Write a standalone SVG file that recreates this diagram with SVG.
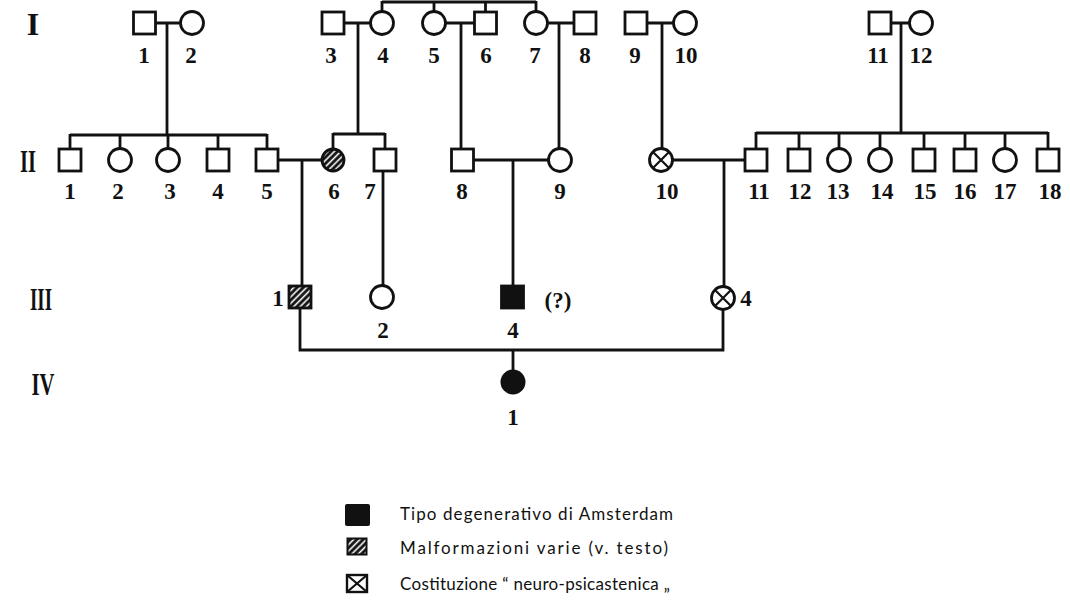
<svg xmlns="http://www.w3.org/2000/svg" width="1070" height="608" viewBox="0 0 1070 608">
<defs>
<pattern id="hatch" patternUnits="userSpaceOnUse" width="4.5" height="4.5" patternTransform="rotate(45)">
<rect width="4.5" height="4.5" fill="#111"/>
<line x1="1.5" y1="0" x2="1.5" y2="4.5" stroke="#fff" stroke-width="1.6"/>
</pattern>
<style>
.sq{fill:#fff;stroke:#111;stroke-width:2.8}
.ci{fill:#fff;stroke:#111;stroke-width:2.8}
.ln{stroke:#111;stroke-width:2.8;fill:none}
.x{stroke:#111;stroke-width:2.2}
.lbl{font-family:"Liberation Serif","DejaVu Serif",serif;font-size:23px;font-weight:bold;fill:#111;text-anchor:middle}
.gen{font-family:"Liberation Serif","DejaVu Serif",serif;font-weight:bold;font-size:32px;fill:#111;text-anchor:middle}
.leg{font-family:"Lato","Open Sans",sans-serif;font-size:17px;fill:#111}
</style>
</defs>
<rect width="1070" height="608" fill="#fff"/>

<g id="gen-labels">
<text class="gen" x="33" y="35">I</text>
<text class="gen" x="28" y="172" textLength="16" lengthAdjust="spacingAndGlyphs">II</text>
<text class="gen" x="41" y="310" textLength="22" lengthAdjust="spacingAndGlyphs">III</text>
<text class="gen" x="43" y="395" textLength="23" lengthAdjust="spacingAndGlyphs">IV</text>
</g>

<g id="connectors">
<path class="ln" d="M156 23H180M167 23V135"/>
<path class="ln" d="M344 23H370M358 23V134"/>
<path class="ln" d="M446 23H474M461 23V148"/>
<path class="ln" d="M548 23H574M559 23V148"/>
<path class="ln" d="M647 23H673M662 23V148"/>
<path class="ln" d="M891 23H909M901 23V133"/>
<path class="ln" d="M382 2H536M382 1V12M434 1V12M485.5 1V12M536 1V12"/>
<path class="ln" d="M70 135H267M70 134V148M120 134V148M168 134V148M218 134V148M267 134V148"/>
<path class="ln" d="M333 134H385M333 133V149M385 133V148"/>
<path class="ln" d="M756 133H1048M756 132V148M799 132V148M839 132V149M880 132V149M924 132V148M965 132V148M1005 132V149M1048 132V148"/>
<path class="ln" d="M278 160H322M302 160V285"/>
<path class="ln" d="M474 160H548M513 160V285"/>
<path class="ln" d="M673 160H745M724 160V286"/>
<path class="ln" d="M383 172V286"/>
<path class="ln" d="M300 309V350H723V310M513 350V370"/>
</g>

<g id="I-1"><rect class="sq" x="133.5" y="12" width="22" height="22"/><text class="lbl" x="144" y="63">1</text></g>
<g id="I-2"><circle class="ci" cx="192" cy="23" r="11.5"/><text class="lbl" x="191" y="63">2</text></g>
<g id="I-3"><rect class="sq" x="322" y="12" width="22" height="22"/><text class="lbl" x="331" y="63">3</text></g>
<g id="I-4"><circle class="ci" cx="382" cy="23" r="11.5"/><text class="lbl" x="383" y="63">4</text></g>
<g id="I-5"><circle class="ci" cx="434" cy="23" r="11.5"/><text class="lbl" x="434" y="63">5</text></g>
<g id="I-6"><rect class="sq" x="474.5" y="12" width="22" height="22"/><text class="lbl" x="486" y="63">6</text></g>
<g id="I-7"><circle class="ci" cx="536" cy="23" r="11.5"/><text class="lbl" x="535" y="63">7</text></g>
<g id="I-8"><rect class="sq" x="574" y="12" width="22" height="22"/><text class="lbl" x="585" y="63">8</text></g>
<g id="I-9"><rect class="sq" x="625" y="12" width="22" height="22"/><text class="lbl" x="635" y="63">9</text></g>
<g id="I-10"><circle class="ci" cx="685" cy="23" r="11.5"/><text class="lbl" x="686" y="63">10</text></g>
<g id="I-11"><rect class="sq" x="869" y="12" width="22" height="22"/><text class="lbl" x="878" y="63">11</text></g>
<g id="I-12"><circle class="ci" cx="921" cy="23" r="11.5"/><text class="lbl" x="921" y="63">12</text></g>

<g id="II-1"><rect class="sq" x="59" y="149" width="22" height="22"/><text class="lbl" x="70" y="199">1</text></g>
<g id="II-2"><circle class="ci" cx="120" cy="160" r="11.5"/><text class="lbl" x="118" y="199">2</text></g>
<g id="II-3"><circle class="ci" cx="168" cy="160" r="11.5"/><text class="lbl" x="170" y="199">3</text></g>
<g id="II-4"><rect class="sq" x="207" y="149" width="22" height="22"/><text class="lbl" x="218" y="199">4</text></g>
<g id="II-5"><rect class="sq" x="256" y="149" width="22" height="22"/><text class="lbl" x="267" y="199">5</text></g>
<g id="II-6"><circle cx="333" cy="160" r="11" fill="url(#hatch)" stroke="#111" stroke-width="2.8"/><text class="lbl" x="334" y="199">6</text></g>
<g id="II-7"><rect class="sq" x="374" y="149" width="22" height="22"/><text class="lbl" x="370" y="199">7</text></g>
<g id="II-8"><rect class="sq" x="451.5" y="149" width="22" height="22"/><text class="lbl" x="462" y="199">8</text></g>
<g id="II-9"><circle class="ci" cx="560" cy="160" r="11.5"/><text class="lbl" x="560" y="199">9</text></g>
<g id="II-10"><circle class="ci" cx="661" cy="160" r="11.5"/><path class="x" d="M653 152L669 168M669 152L653 168"/><text class="lbl" x="667" y="199">10</text></g>
<g id="II-11"><rect class="sq" x="745" y="149" width="22" height="22"/><text class="lbl" x="759" y="199">11</text></g>
<g id="II-12"><rect class="sq" x="788" y="149" width="22" height="22"/><text class="lbl" x="800" y="199">12</text></g>
<g id="II-13"><circle class="ci" cx="839" cy="160" r="11.5"/><text class="lbl" x="838" y="199">13</text></g>
<g id="II-14"><circle class="ci" cx="880" cy="160" r="11.5"/><text class="lbl" x="882" y="199">14</text></g>
<g id="II-15"><rect class="sq" x="913" y="149" width="22" height="22"/><text class="lbl" x="925" y="199">15</text></g>
<g id="II-16"><rect class="sq" x="954" y="149" width="22" height="22"/><text class="lbl" x="965" y="199">16</text></g>
<g id="II-17"><circle class="ci" cx="1005" cy="160" r="11.5"/><text class="lbl" x="1005" y="199">17</text></g>
<g id="II-18"><rect class="sq" x="1037" y="149" width="22" height="22"/><text class="lbl" x="1050" y="199">18</text></g>

<g id="III-1"><rect x="289" y="286" width="22" height="22" fill="url(#hatch)" stroke="#111" stroke-width="2.8"/><text class="lbl" x="278" y="306">1</text></g>
<g id="III-2"><circle class="ci" cx="382" cy="297" r="11.5"/><text class="lbl" x="383" y="338">2</text></g>
<g id="III-4a"><rect x="501.5" y="286" width="22" height="22" fill="#111" stroke="#111" stroke-width="2.8"/><text class="lbl" x="513" y="338">4</text><text class="lbl" x="558" y="308">(?)</text></g>
<g id="III-4b"><circle class="ci" cx="723" cy="298" r="11.5"/><path class="x" d="M715 290L731 306M731 290L715 306"/><text class="lbl" x="746" y="306">4</text></g>

<g id="IV-1"><circle cx="513" cy="382" r="12.5" fill="#111"/><text class="lbl" x="513" y="425">1</text></g>

<g id="legend">
<rect x="345" y="504" width="25" height="22" rx="2" fill="#111"/>
<text class="leg" x="400" y="520" textLength="273" lengthAdjust="spacing">Tipo degenerativo di Amsterdam</text>
<rect x="347.5" y="538.5" width="19" height="16" fill="url(#hatch)" stroke="#111" stroke-width="2"/>
<text class="leg" x="400" y="554" textLength="268" lengthAdjust="spacing">Malformazioni varie (v. testo)</text>
<rect x="347" y="575" width="20" height="17" fill="#fff" stroke="#111" stroke-width="2.4"/>
<path class="x" d="M347 575L367 592M367 575L347 592"/>
<text class="leg" x="400" y="590" textLength="270" lengthAdjust="spacing">Costituzione “ neuro-psicastenica „</text>
</g>
</svg>
